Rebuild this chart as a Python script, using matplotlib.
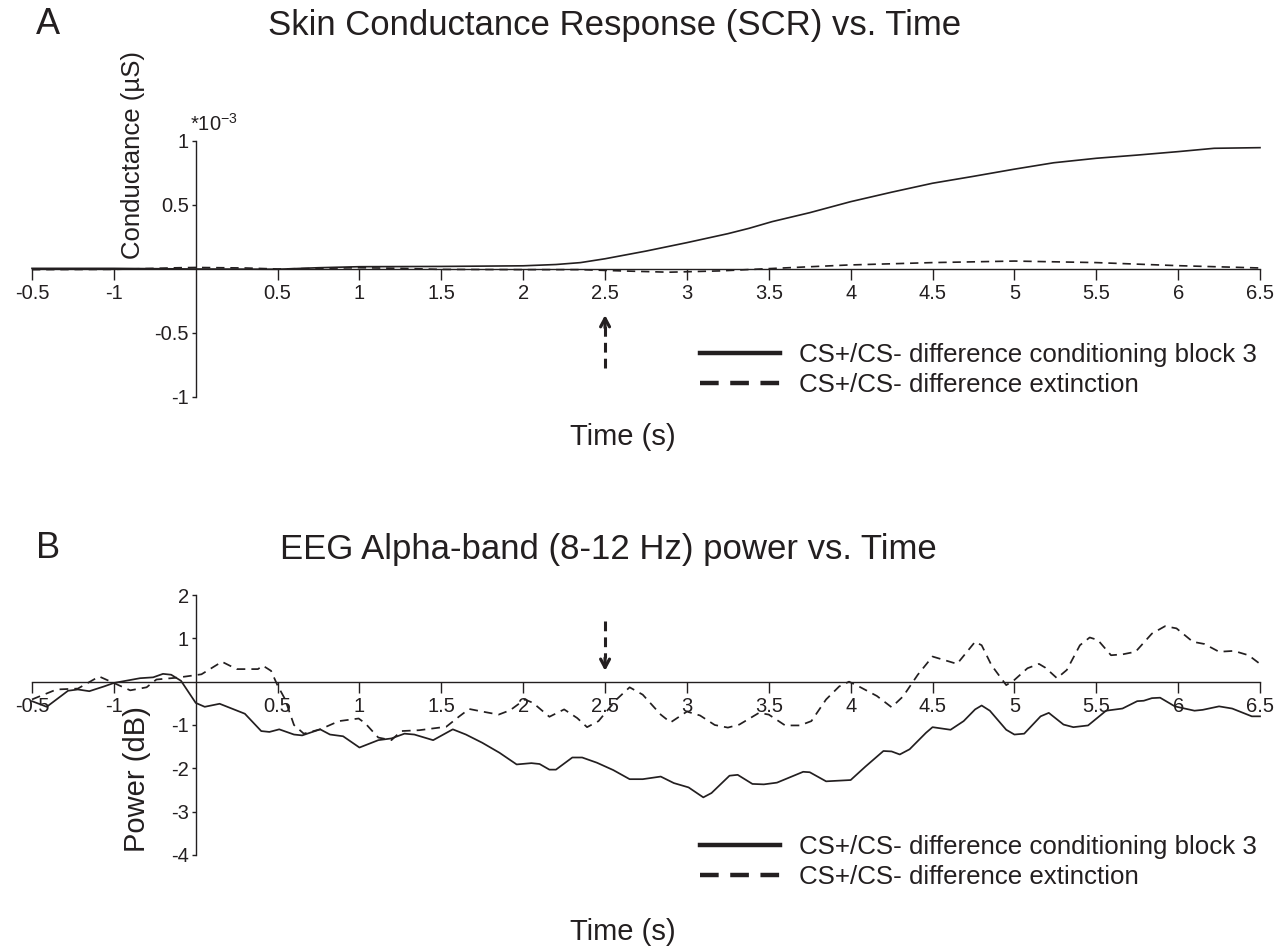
import matplotlib
matplotlib.use("Agg")
import matplotlib.pyplot as plt
from matplotlib.lines import Line2D

plt.rcParams['font.family'] = ['Liberation Sans', 'DejaVu Sans']

INK = '#231f20'

# ---------------- data ----------------
# Panel A: skin conductance (units of 1e-3 uS)
scr_cond_t = [-1.0, -0.5, 0.0, 0.5, 0.75, 1.0, 1.5, 2.0, 2.2, 2.35, 2.5, 2.75, 3.0, 3.25,
              3.38, 3.52, 3.75, 4.0, 4.25, 4.5, 4.75, 5.0, 5.24, 5.5, 5.75, 6.0, 6.22, 6.5]
scr_cond_v = [0.005, 0.005, 0.0, -0.002, 0.01, 0.018, 0.02, 0.025, 0.035, 0.05, 0.08, 0.14, 0.206, 0.276,
              0.318, 0.37, 0.44, 0.526, 0.60, 0.67, 0.724, 0.78, 0.83, 0.865, 0.89, 0.917, 0.943, 0.948]
scr_ext_t = [-1.0, -0.5, -0.1, 0.0, 0.3, 0.5, 1.0, 1.25, 1.5, 2.0, 2.35, 2.6, 2.89, 3.2,
             3.45, 3.98, 4.5, 5.0, 5.5, 6.0, 6.5]
scr_ext_v = [-0.005, -0.003, 0.01, 0.012, 0.008, 0.0, 0.01, 0.005, -0.003, -0.005, -0.005, -0.015, -0.025, -0.015,
             0.0, 0.031, 0.05, 0.062, 0.05, 0.026, 0.008]

# Panel B: EEG alpha power (dB)
eeg_cond_t = [-1.0, -0.91, -0.78, -0.72, -0.65, -0.56, -0.50, -0.34, -0.26, -0.20, -0.15, -0.09,
              0.0, 0.055, 0.146, 0.30, 0.40, 0.45, 0.51, 0.60, 0.65, 0.76, 0.82, 0.90, 1.00,
              1.115, 1.195, 1.275, 1.335, 1.45, 1.57, 1.65, 1.75, 1.855, 1.96, 2.05, 2.10,
              2.16, 2.20, 2.30, 2.36, 2.45, 2.55, 2.65, 2.73, 2.84, 2.92, 3.01, 3.10, 3.15,
              3.26, 3.31, 3.40, 3.47, 3.55, 3.71, 3.75, 3.85, 4.00, 4.09, 4.20, 4.25, 4.30,
              4.36, 4.46, 4.50, 4.61, 4.69, 4.76, 4.80, 4.85, 4.95, 5.00, 5.06, 5.16, 5.21,
              5.30, 5.36, 5.45, 5.56, 5.66, 5.75, 5.79, 5.84, 5.89, 5.98, 6.10, 6.15, 6.25,
              6.33, 6.45, 6.50]
eeg_cond_v = [-0.45, -0.58, -0.21, -0.18, -0.22, -0.11, -0.03, 0.08, 0.10, 0.18, 0.16, 0.02,
              -0.49, -0.58, -0.51, -0.74, -1.14, -1.16, -1.10, -1.22, -1.24, -1.10, -1.22, -1.26, -1.52,
              -1.35, -1.31, -1.20, -1.22, -1.35, -1.10, -1.22, -1.41, -1.64, -1.91, -1.88, -1.90,
              -2.03, -2.03, -1.75, -1.75, -1.87, -2.04, -2.25, -2.25, -2.19, -2.34, -2.44, -2.67, -2.57,
              -2.17, -2.15, -2.36, -2.37, -2.33, -2.08, -2.09, -2.30, -2.27, -1.96, -1.60, -1.61, -1.68,
              -1.56, -1.18, -1.05, -1.11, -0.91, -0.64, -0.55, -0.67, -1.11, -1.22, -1.20, -0.80, -0.72,
              -0.99, -1.05, -1.01, -0.67, -0.62, -0.45, -0.44, -0.38, -0.37, -0.57, -0.67, -0.65, -0.57,
              -0.62, -0.80, -0.80]
eeg_ext_t = [-1.0, -0.85, -0.72, -0.59, -0.40, -0.30, -0.24, -0.12, -0.06, 0.035, 0.16, 0.25,
             0.38, 0.41, 0.46, 0.50, 0.545, 0.60, 0.66, 0.76, 0.875, 0.995, 1.035, 1.115, 1.195,
             1.255, 1.365, 1.53, 1.61, 1.67, 1.75, 1.85, 1.92, 2.01, 2.06, 2.16, 2.25, 2.33,
             2.39, 2.46, 2.57, 2.65, 2.73, 2.84, 2.90, 3.00, 3.08, 3.17, 3.25, 3.32, 3.44,
             3.50, 3.60, 3.69, 3.76, 3.85, 3.93, 3.99, 4.05, 4.16, 4.25, 4.32, 4.41, 4.50,
             4.65, 4.76, 4.80, 4.86, 4.95, 5.00, 5.08, 5.15, 5.19, 5.26, 5.32, 5.40, 5.46,
             5.51, 5.59, 5.66, 5.74, 5.84, 5.92, 5.99, 6.09, 6.16, 6.25, 6.34, 6.43, 6.50]
eeg_ext_v = [-0.41, -0.18, -0.16, 0.12, -0.20, -0.13, 0.05, 0.09, 0.12, 0.17, 0.46, 0.29,
             0.29, 0.37, 0.25, -0.09, -0.40, -1.00, -1.20, -1.10, -0.91, -0.85, -0.96, -1.29, -1.35,
             -1.14, -1.12, -1.04, -0.80, -0.63, -0.69, -0.76, -0.66, -0.41, -0.49, -0.81, -0.64, -0.84,
             -1.05, -0.91, -0.41, -0.13, -0.30, -0.76, -0.94, -0.69, -0.78, -1.00, -1.06, -0.99, -0.72,
             -0.76, -1.01, -1.01, -0.91, -0.41, -0.11, 0.0, -0.11, -0.33, -0.59, -0.34, 0.16, 0.58,
             0.41, 0.92, 0.84, 0.38, -0.08, 0.04, 0.31, 0.41, 0.32, 0.08, 0.27, 0.84, 1.02,
             0.96, 0.61, 0.63, 0.69, 1.11, 1.28, 1.23, 0.92, 0.87, 0.69, 0.71, 0.61, 0.41]

x_tick_pos = [-1.0, -0.5, 0.5, 1.0, 1.5, 2.0, 2.5, 3.0, 3.5, 4.0, 4.5, 5.0, 5.5, 6.0, 6.5]
x_tick_labels = ['-0.5', '-1', '0.5', '1', '1.5', '2', '2.5', '3', '3.5', '4', '4.5', '5', '5.5', '6', '6.5']
a_yticks = [-1, -0.5, 0.5, 1]
a_yticklabels = ['-1', '-0.5', '0.5', '1']
b_yticks = [-4, -3, -2, -1, 1, 2]
b_yticklabels = ['-4', '-3', '-2', '-1', '1', '2']
stimulus_time = 2.5
legend_labels = ['CS+/CS- difference conditioning block 3', 'CS+/CS- difference extinction']

# ---------------- figure ----------------
W, H = 1285, 948
fig = plt.figure(figsize=(W / 100, H / 100), dpi=100)

def fx(px):
    return px / W

def fy(py):
    return 1 - py / H

dash_line = (0, (5, 3.5))

def style_axes(ax, yticks, yticklabels):
    for s in ['top', 'right']:
        ax.spines[s].set_visible(False)
    ax.spines['left'].set_position(('data', 0))
    ax.spines['bottom'].set_position(('data', 0))
    for s in ['left', 'bottom']:
        ax.spines[s].set_color(INK)
        ax.spines[s].set_linewidth(1.0)
    ax.set_xticks(x_tick_pos)
    ax.set_xticklabels(x_tick_labels)
    ax.set_yticks(yticks)
    ax.set_yticklabels(yticklabels)
    ax.tick_params(axis='x', direction='out', length=8, width=1.0, pad=3,
                   labelsize=14.5, colors=INK)
    ax.tick_params(axis='y', direction='out', length=3, width=1.0, pad=2,
                   labelsize=14.5, colors=INK)
    ax.patch.set_visible(False)

# Panel A
axA = fig.add_axes([fx(32), fy(397), fx(1260) - fx(32), fy(141) - fy(397)])
axA.set_xlim(-1, 6.5)
axA.set_ylim(-1, 1)
axA.plot(scr_cond_t, scr_cond_v, color=INK, lw=1.2, clip_on=False)
axA.plot(scr_ext_t, scr_ext_v, color=INK, lw=1.2, ls=dash_line, clip_on=False)
style_axes(axA, a_yticks, a_yticklabels)
# stimulus arrow (pointing up)
axA.plot([stimulus_time, stimulus_time], [-0.77, -0.42], color=INK, lw=2.2, ls=(0, (3.2, 2.0)))
axA.annotate('', xy=(stimulus_time, -0.36), xytext=(stimulus_time, -0.46),
             arrowprops=dict(arrowstyle='->,head_length=0.6,head_width=0.32', lw=2.3, color=INK,
                             shrinkA=0, shrinkB=0))

# Panel B
axB = fig.add_axes([fx(32), fy(855), fx(1260) - fx(32), fy(595) - fy(855)])
axB.set_xlim(-1, 6.5)
axB.set_ylim(-4, 2)
axB.plot(eeg_cond_t, eeg_cond_v, color=INK, lw=1.25, clip_on=False)
axB.plot(eeg_ext_t, eeg_ext_v, color=INK, lw=1.25, ls=dash_line, clip_on=False)
style_axes(axB, b_yticks, b_yticklabels)
axB.plot([stimulus_time, stimulus_time], [1.41, 0.55], color=INK, lw=2.2, ls=(0, (3.2, 2.0)))
axB.annotate('', xy=(stimulus_time, 0.25), xytext=(stimulus_time, 0.55),
             arrowprops=dict(arrowstyle='->,head_length=0.6,head_width=0.32', lw=2.3, color=INK,
                             shrinkA=0, shrinkB=0))

# Legends
handles = [Line2D([], [], color=INK, lw=3.2),
           Line2D([], [], color=INK, lw=3.2, ls=(0, (4.2, 2.6)))]
for ax, top in [(axA, 343), (axB, 835)]:
    fig.legend(handles, legend_labels, loc='upper left',
               bbox_to_anchor=(fx(700), fy(top)), bbox_transform=fig.transFigure,
               frameon=False, fontsize=18.6, handlelength=3.1, handletextpad=0.75,
               labelspacing=0.25, borderpad=0, borderaxespad=0, labelcolor=INK)

# Texts
fig.text(fx(48), fy(25), 'A', fontsize=26, ha='center', va='center', color=INK)
fig.text(fx(48), fy(548), 'B', fontsize=26, ha='center', va='center', color=INK)
fig.text(fx(615), fy(26), 'Skin Conductance Response (SCR) vs. Time', fontsize=25,
         ha='center', va='center', color=INK)
fig.text(fx(608), fy(549), 'EEG Alpha-band (8-12 Hz) power vs. Time', fontsize=25,
         ha='center', va='center', color=INK)
fig.text(fx(623), fy(437), 'Time (s)', fontsize=21, ha='center', va='center', color=INK)
fig.text(fx(623), fy(932), 'Time (s)', fontsize=21, ha='center', va='center', color=INK)
fig.text(fx(133), fy(155), 'Conductance (µS)', fontsize=18.5, rotation=90,
         ha='center', va='center', color=INK)
fig.text(fx(137), fy(779), 'Power (dB)', fontsize=21, rotation=90,
         ha='center', va='center', color=INK)
fig.text(fx(190), fy(124), r'*10$^{\mathregular{-3}}$', fontsize=14.5, ha='left', va='center',
         color=INK)

fig.savefig('out.png', dpi=100)
